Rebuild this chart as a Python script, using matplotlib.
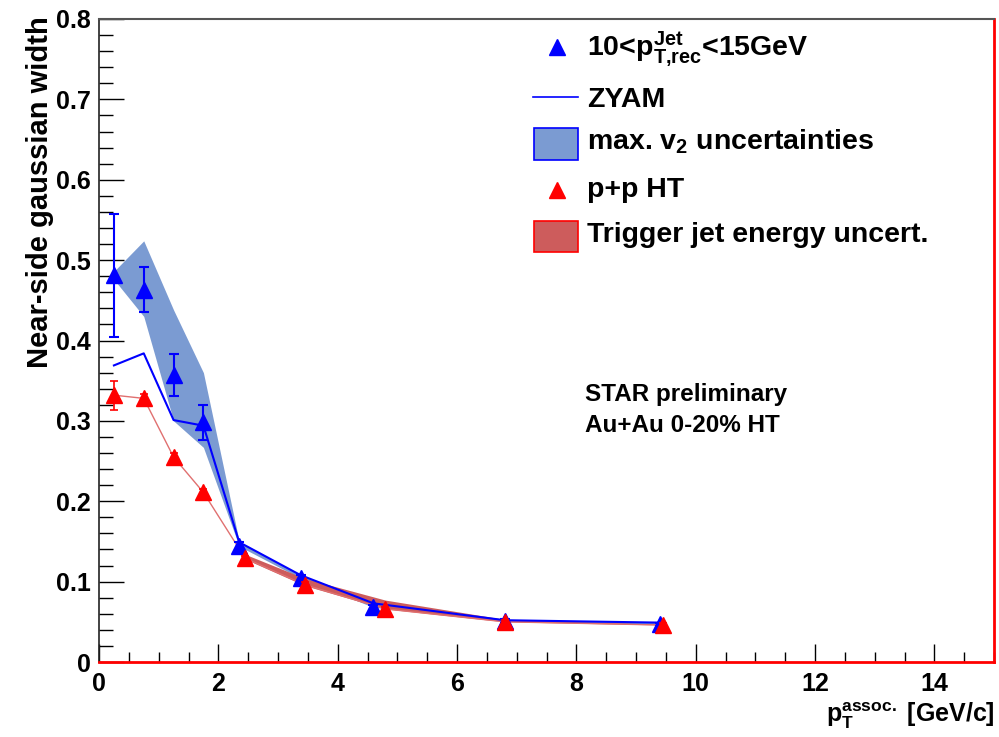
import matplotlib
matplotlib.use("Agg")
import matplotlib.pyplot as plt
from matplotlib.patches import Rectangle
from matplotlib.lines import Line2D
from matplotlib.ticker import MultipleLocator

plt.rcParams['font.family'] = ['Liberation Sans', 'DejaVu Sans']
plt.rcParams['font.weight'] = 'bold'
plt.rcParams['mathtext.fontset'] = 'custom'
plt.rcParams['mathtext.rm'] = 'Liberation Sans:bold'
plt.rcParams['mathtext.it'] = 'Liberation Sans:bold'
plt.rcParams['mathtext.bf'] = 'Liberation Sans:bold'

# Au+Au jet-triggered, 10 < pT,rec < 15 GeV
auau_pt = [0.25, 0.75, 1.25, 1.75, 2.35, 3.38, 4.6, 6.8, 9.4]
auau_w = [0.481, 0.463, 0.357, 0.298, 0.144, 0.104, 0.068, 0.051, 0.047]
auau_err = [0.077, 0.028, 0.026, 0.022, 0.005, 0.004, 0.003, 0.002, 0.002]

# ZYAM background subtraction
zyam_w = [0.369, 0.384, 0.301, 0.294, 0.149, 0.108, 0.073, 0.052, 0.049]

# max. v2 uncertainty band
v2_lo = [0.476, 0.430, 0.300, 0.267, 0.144, 0.104, 0.068, 0.051, 0.047]
v2_hi = [0.486, 0.524, 0.438, 0.360, 0.150, 0.108, 0.072, 0.053, 0.049]

# p+p HT reference
pp_pt = [0.25, 0.75, 1.25, 1.75, 2.45, 3.45, 4.8, 6.8, 9.45]
pp_w = [0.332, 0.328, 0.255, 0.211, 0.129, 0.096, 0.066, 0.050, 0.046]
pp_err = [0.018, 0.005, 0.005, 0.004, 0.003, 0.003, 0.002, 0.002, 0.002]

# trigger jet energy uncertainty band
jes_pt = [2.45, 3.45, 4.8, 6.8, 9.45]
jes_lo = [0.128, 0.095, 0.066, 0.050, 0.046]
jes_hi = [0.134, 0.104, 0.077, 0.053, 0.047]

blue = '#0000ff'
red = '#ff0000'
blue_fill = '#7b9bd2'
red_fill = '#cd5c5c'

W, H = 999, 737
fig = plt.figure(figsize=(W / 100, H / 100), dpi=100)
ax = fig.add_axes([99 / W, 1 - 662 / H, (994 - 99) / W, (662 - 19) / H])


def fx(px):
    return px / W


def fy(py):
    return 1 - py / H


ax.fill_between(auau_pt, v2_lo, v2_hi, color=blue_fill, lw=0, zorder=1)
ax.fill_between(jes_pt, jes_lo, jes_hi, color=red_fill, lw=0, zorder=2)
ax.plot(pp_pt, pp_w, color='#e07070', lw=1, zorder=3)
ax.plot(auau_pt, zyam_w, color=blue, lw=1.5, zorder=4)
ax.errorbar(auau_pt, auau_w, yerr=auau_err, fmt='^', color=blue, ms=12,
            elinewidth=1.5, capsize=3.5, capthick=1.5, zorder=5)
ax.errorbar(pp_pt, pp_w, yerr=pp_err, fmt='^', color=red, ms=12,
            elinewidth=1.2, capsize=3, capthick=1.2, zorder=6)

ax.set_xlim(0, 15)
ax.set_ylim(0, 0.8)
ax.xaxis.set_major_locator(MultipleLocator(2))
ax.xaxis.set_minor_locator(MultipleLocator(0.5))
ax.yaxis.set_major_locator(MultipleLocator(0.1))
ax.yaxis.set_minor_locator(MultipleLocator(0.02))
ax.tick_params(axis='x', which='major', direction='in', length=13, width=1,
               labelsize=18, pad=7, top=False)
ax.tick_params(axis='x', which='minor', direction='in', length=7, width=1, top=False)
ax.tick_params(axis='y', which='major', direction='in', length=18, width=1,
               labelsize=18, pad=6, right=False)
ax.tick_params(axis='y', which='minor', direction='in', length=10, width=1, right=False)
ax.set_yticks([0, 0.1, 0.2, 0.3, 0.4, 0.5, 0.6, 0.7, 0.8])
ax.set_yticklabels(['0', '0.1', '0.2', '0.3', '0.4', '0.5', '0.6', '0.7', '0.8'])

ax.spines['left'].set_color('#222222')
ax.spines['top'].set_color('#555555')
ax.spines['right'].set_color(red)
ax.spines['bottom'].set_color(red)
ax.spines['right'].set_linewidth(2)
ax.spines['bottom'].set_linewidth(2)
ax.spines['left'].set_linewidth(1.2)
ax.spines['top'].set_linewidth(1.5)

fig.text(fx(40), fy(16), 'Near-side gaussian width', rotation=90,
         ha='center', va='top', fontsize=21, fontweight='bold')
fig.text(fx(995), fy(716), r'p$_{\mathrm{T}}^{\mathrm{assoc.}}$ [GeV/c]',
         ha='right', va='center', fontsize=18, fontweight='bold')

fig.text(fx(585), fy(395), 'STAR preliminary', ha='left', va='center',
         fontsize=17.5, fontweight='bold')
fig.text(fx(585), fy(426), 'Au+Au 0-20% HT', ha='left', va='center',
         fontsize=17.5, fontweight='bold')

# legend, drawn by hand in figure pixels
leg_text_x = fx(587)
leg_font = 20.5
fig.add_artist(Line2D([fx(557)], [fy(47)], marker='^', color=blue, ms=11,
                      ls='none', transform=fig.transFigure))
fig.text(leg_text_x, fy(49), r'10<p$_{\mathrm{T{,}rec}}^{\mathrm{Jet}}$<15GeV',
         ha='left', va='center', fontsize=leg_font, fontweight='bold')
fig.add_artist(Line2D([fx(533), fx(578)], [fy(97), fy(97)], color=blue, lw=1.2,
                      transform=fig.transFigure))
fig.text(leg_text_x, fy(100), 'ZYAM', ha='left', va='center',
         fontsize=leg_font, fontweight='bold')
fig.add_artist(Rectangle((fx(534), fy(160)), fx(578) - fx(534), fy(128) - fy(160),
                         facecolor=blue_fill, edgecolor=blue, lw=1.2,
                         transform=fig.transFigure))
fig.text(leg_text_x, fy(142), r'max. v$_{\mathrm{2}}$ uncertainties', ha='left',
         va='center', fontsize=leg_font, fontweight='bold')
fig.add_artist(Line2D([fx(557)], [fy(190)], marker='^', color=red, ms=11,
                      ls='none', transform=fig.transFigure))
fig.text(leg_text_x, fy(190), 'p+p HT', ha='left', va='center',
         fontsize=leg_font, fontweight='bold')
fig.add_artist(Rectangle((fx(534), fy(252)), fx(578) - fx(534), fy(221) - fy(252),
                         facecolor=red_fill, edgecolor=red, lw=1.2,
                         transform=fig.transFigure))
fig.text(leg_text_x, fy(235), 'Trigger jet energy uncert.', ha='left',
         va='center', fontsize=leg_font, fontweight='bold')

fig.savefig('out.png', dpi=100)
